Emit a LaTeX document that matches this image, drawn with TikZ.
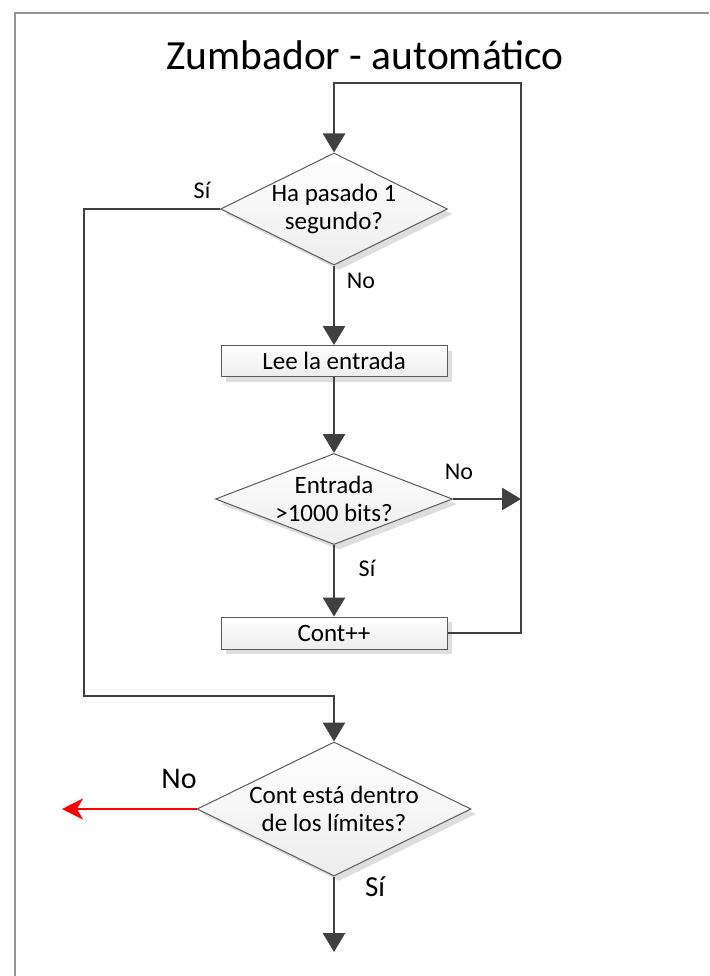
\documentclass[tikz,border=0pt]{standalone}
\usepackage{fontspec}
\setmainfont{Carlito}
\usetikzlibrary{arrows.meta,shapes.geometric,shadows}

\definecolor{linegray}{HTML}{404040}
\definecolor{edgegray}{HTML}{5A5A5A}
\definecolor{fillgray}{HTML}{EDEDED}
\definecolor{framegray}{HTML}{969696}

\begin{document}
\begin{tikzpicture}[x=1pt,y=-1pt,
  flow/.style={draw=linegray,line width=2.7pt,-{Triangle[length=19pt,width=22pt]}},
  salida/.style={draw=red,line width=2.4pt,-{Stealth[length=21pt,width=21pt,inset=6pt]}},
  caja/.style={draw=edgegray,line width=1pt,top color=white,bottom color=fillgray,
    drop shadow={shadow xshift=5pt,shadow yshift=-5pt,fill=black!13,opacity=1}},
  decision/.style={caja,diamond,aspect=2,inner sep=0pt,align=center,
    font=\fontsize{25}{28}\selectfont},
  proceso/.style={caja,rectangle,minimum width=226pt,minimum height=31pt,inner sep=0pt,
    font=\fontsize{25}{28}\selectfont},
  etiqueta/.style={font=\fontsize{24}{28}\selectfont,inner sep=0pt}]
\useasboundingbox (0,0) rectangle (709,976);
\draw[framegray,line width=1.8pt] (15,976) |- (709,13);

\node[font=\fontsize{41.5}{48}\selectfont,anchor=base] (titulo) at (365,70) {Zumbador - automático};

% bloques
\node[decision,minimum width=227pt,minimum height=112pt] (tiempo) at (334,209) {Ha pasado 1\\segundo?};
\node[proceso] (lee) at (334,361) {Lee la entrada};
\node[decision,aspect=2.6,minimum width=237pt,minimum height=91pt] (entrada) at (334,499) {Entrada\\>1000 bits?};
\node[proceso,minimum height=32pt] (cont) at (334,633) {Cont++};
\node[decision,minimum width=274pt,minimum height=134pt] (limites) at (334,809) {Cont está dentro\\de los límites?};

% puntos de quiebre
\coordinate (arriba) at (334,83);
\coordinate (derecha) at (521,83);
\coordinate (izq) at (84,696);
\coordinate (fuera) at (62,809);
\coordinate (fin) at (334,952);

% conexiones
\draw[flow] (cont.east) -| (derecha) -- (arriba) -- (tiempo.north);
\draw[flow] (tiempo.south) -- (lee.north);
\draw[flow] (lee.south) -- (entrada.north);
\draw[flow] (entrada.east) -- (entrada.east -| derecha);
\draw[flow] (entrada.south) -- (cont.north);
\draw[flow] (tiempo.west) -| (izq) -| (limites.north);
\draw[flow] (limites.south) -- (fin);
\draw[salida] (limites.west) -- (fuera);

% etiquetas
\node[etiqueta] (si1) at (202,190) {Sí};
\node[etiqueta] (no1) at (361,281) {No};
\node[etiqueta] (no2) at (459,472) {No};
\node[etiqueta] (si2) at (367,568) {Sí};
\node[etiqueta,font=\fontsize{30}{34}\selectfont] (no3) at (179,779) {No};
\node[etiqueta,font=\fontsize{29}{34}\selectfont] (si3) at (375,887) {Sí};
\end{tikzpicture}
\end{document}
